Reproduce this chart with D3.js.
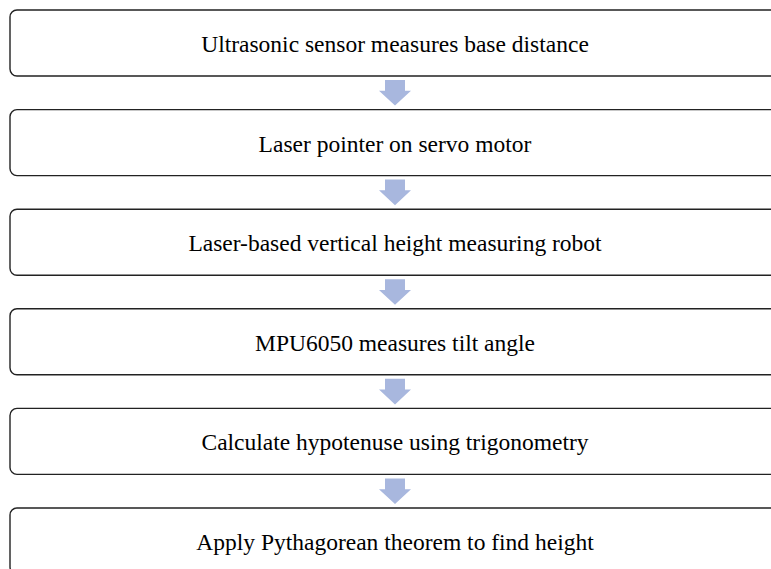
<!DOCTYPE html>
<html>
<head>
<meta charset="utf-8">
<script src="https://cdn.jsdelivr.net/npm/d3@7"></script>
<style>
  html, body { margin: 0; padding: 0; background: #fff; overflow: hidden; }
  svg { display: block; }
</style>
</head>
<body>
<svg id="chart" width="771" height="569"></svg>
<script>
const steps = [
  "Ultrasonic sensor measures base distance",
  "Laser pointer on servo motor",
  "Laser-based vertical height measuring robot",
  "MPU6050 measures tilt angle",
  "Calculate hypotenuse using trigonometry",
  "Apply Pythagorean theorem to find height"
]

const svg = d3.select("#chart")

// one band per step, boxes stacked down the page
const y = d3.scaleBand()
  .domain(d3.range(steps.length))
  .range([10, 574])
  .paddingInner(0.337)
  .paddingOuter(0)

const boxLeft = 10
const boxRight = 780
const midX = (boxLeft + boxRight) / 2

// arrows between boxes
const arrow = (i) => {
  const top = y(i) + y.bandwidth() + 4
  const bottom = y(i + 1) - 4
  const headY = top + (bottom - top) * 0.42
  const cx = 395
  return `M${cx - 10},${top} L${cx + 10},${top} L${cx + 10},${headY} L${cx + 16},${headY}` +
    ` L${cx},${bottom} L${cx - 16},${headY} L${cx - 10},${headY} Z`
}

svg.selectAll("path.arrow")
  .data(d3.range(steps.length - 1))
  .enter()
  .append("path")
  .attr("class", "arrow")
  .attr("d", d => arrow(d))
  .attr("fill", "#a8b7de")

const boxes = svg.selectAll("g.step")
  .data(steps)
  .enter()
  .append("g")
  .attr("class", "step")

boxes.append("rect")
  .attr("x", boxLeft)
  .attr("y", (d, i) => y(i))
  .attr("width", boxRight - boxLeft)
  .attr("height", y.bandwidth())
  .attr("rx", 7)
  .attr("fill", "#fff")
  .attr("stroke", "#222")
  .attr("stroke-width", 1.4)

boxes.append("text")
  .attr("x", midX)
  .attr("y", (d, i) => y(i) + y.bandwidth() / 2 + 1)
  .attr("text-anchor", "middle")
  .attr("dominant-baseline", "central")
  .style("font-family", "'Liberation Serif', 'Times New Roman', serif")
  .style("font-size", "23.5px")
  .style("fill", "#000")
  .text(d => d)
</script>
</body>
</html>
